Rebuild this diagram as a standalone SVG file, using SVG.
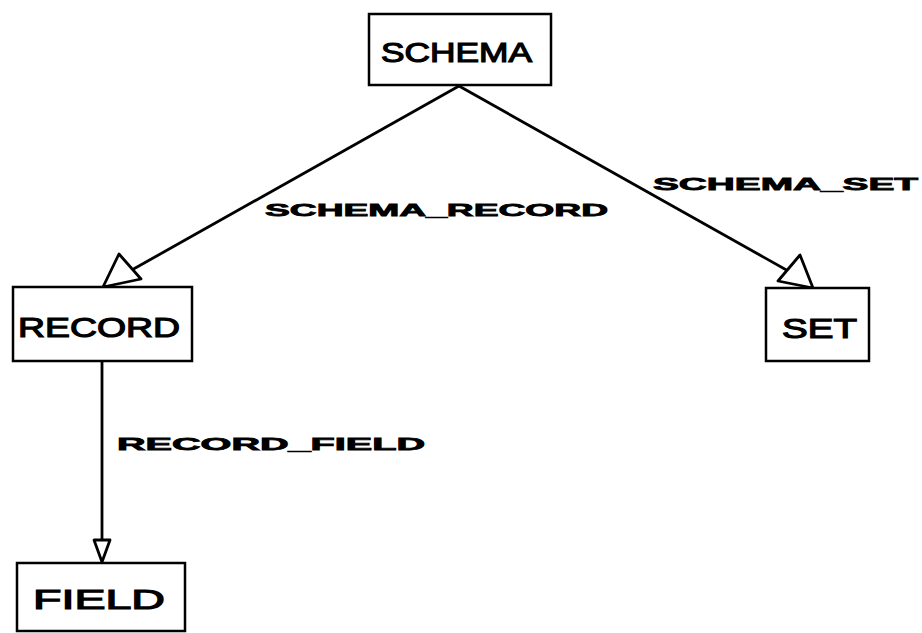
<svg xmlns="http://www.w3.org/2000/svg" width="922" height="633" viewBox="0 0 922 633">
<style>
.box{fill:#fff;stroke:#000;stroke-width:2.5}
.name{font-family:"Liberation Sans",Arial,sans-serif;font-weight:normal;font-size:28px;fill:#000;stroke:#000;stroke-width:1.2}
.lbl{font-family:"Liberation Sans",Arial,sans-serif;font-weight:900;font-size:17px;fill:#000;stroke:#000;stroke-width:0.8}
.edge{fill:none;stroke:#000;stroke-width:2.8}
.head{fill:#fff;stroke:#000;stroke-width:2.8;stroke-linejoin:round}
</style>
<rect width="922" height="633" fill="#fff"/>
<g id="connectors">
<line class="edge" x1="459" y1="86" x2="130" y2="271"/>
<path class="head" d="M103,287 L119,254 L141,279 Z"/>
<line class="edge" x1="459" y1="86" x2="790" y2="272"/>
<path class="head" d="M813,288 L800,255 L778,281 Z"/>
<line class="edge" x1="102" y1="361" x2="102" y2="540"/>
<path class="head" d="M102,562 L94,540 L110,540 Z"/>
<text class="lbl" x="265" y="216" textLength="343" lengthAdjust="spacingAndGlyphs">SCHEMA_RECORD</text>
<text class="lbl" x="653" y="190" textLength="265" lengthAdjust="spacingAndGlyphs">SCHEMA_SET</text>
<text class="lbl" x="117" y="450" textLength="308" lengthAdjust="spacingAndGlyphs">RECORD_FIELD</text>
</g>
<g id="SCHEMA">
<rect class="box" x="369" y="14" width="182" height="71"/>
<text class="name" x="381" y="62" textLength="151" lengthAdjust="spacingAndGlyphs">SCHEMA</text>
</g>
<g id="RECORD">
<rect class="box" x="13" y="287" width="179" height="74"/>
<text class="name" x="18" y="337" textLength="162" lengthAdjust="spacingAndGlyphs">RECORD</text>
</g>
<g id="SET">
<rect class="box" x="766" y="288" width="103" height="73"/>
<text class="name" x="782" y="338" textLength="75" lengthAdjust="spacingAndGlyphs">SET</text>
</g>
<g id="FIELD">
<rect class="box" x="17" y="563" width="168" height="68"/>
<text class="name" x="33" y="609" textLength="132" lengthAdjust="spacingAndGlyphs">FIELD</text>
</g>
</svg>
